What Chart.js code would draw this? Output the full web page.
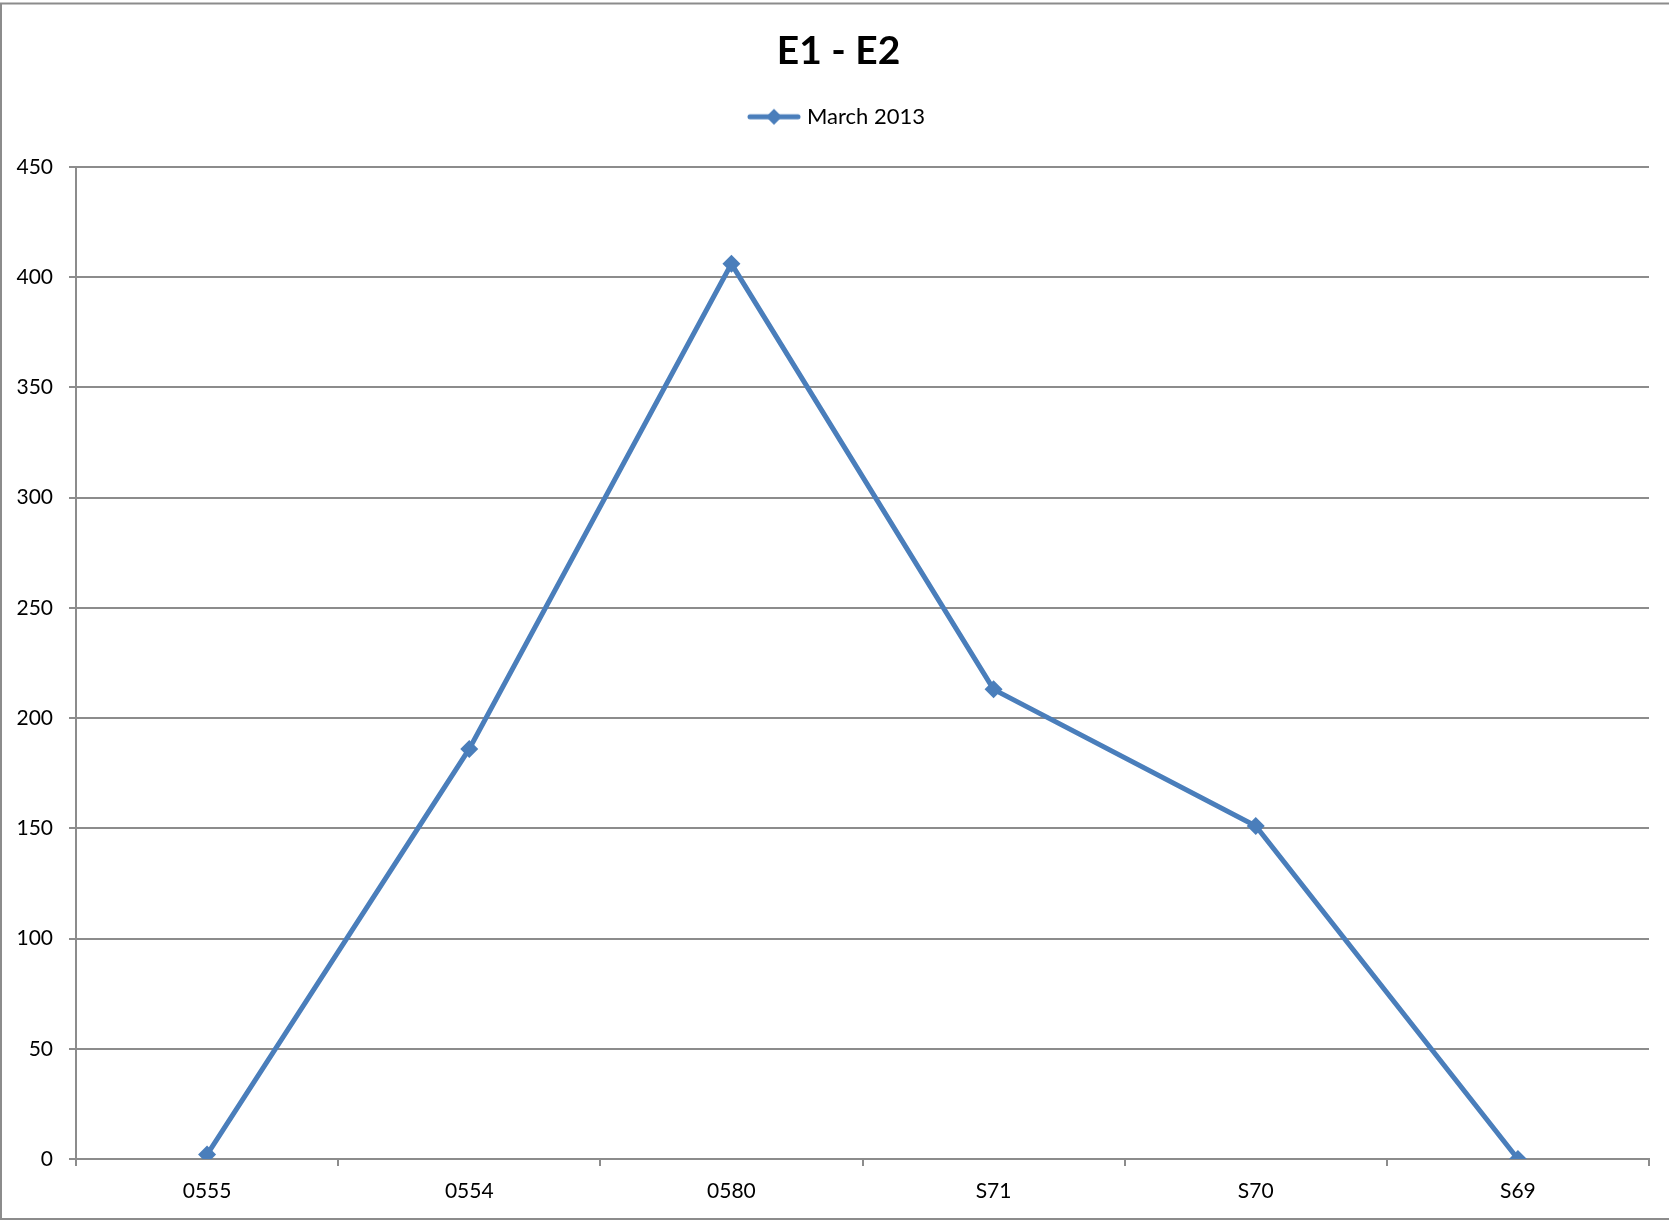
<!DOCTYPE html>
<html>
<head>
<meta charset="utf-8">
<title>E1 - E2</title>
<script src="https://cdn.jsdelivr.net/npm/chart.js@4/dist/chart.umd.min.js"></script>
<style>
  html, body { margin: 0; padding: 0; background: #ffffff; }
  #wrap { position: relative; width: 1669px; height: 1225px; }
</style>
</head>
<body>
<div id="wrap"><canvas id="chart" width="1669" height="1225"></canvas></div>
<script>
// Station codes along the transect and the March 2013 readings
const categories = ['0555', '0554', '0580', 'S71', 'S70', 'S69'];
const march2013 = [2, 186, 406, 213, 151, 0];
const yTicks = [0, 50, 100, 150, 200, 250, 300, 350, 400, 450];

const chartTitle = 'E1 - E2';
const seriesName = 'March 2013';

const lineColor = '#4a7ebb';
const gridColor = '#8c8c8c';
const fontFamily = 'Lato, "Open Sans", sans-serif';

// Legend swatch: a short line with a diamond marker in the middle
function legendSwatch() {
  const c = document.createElement('canvas');
  c.width = 54; c.height = 20;
  const g = c.getContext('2d');
  g.strokeStyle = lineColor;
  g.lineWidth = 5;
  g.lineCap = 'round';
  g.beginPath(); g.moveTo(3, 10); g.lineTo(51, 10); g.stroke();
  g.fillStyle = lineColor;
  g.beginPath(); g.moveTo(27, 2); g.lineTo(35, 10); g.lineTo(27, 18); g.lineTo(19, 10); g.closePath(); g.fill();
  return c;
}
const swatch = legendSwatch();

// Thin grey frame around the whole chart
const frame = {
  id: 'frame',
  beforeDraw(chart) {
    const ctx = chart.ctx;
    ctx.save();
    ctx.strokeStyle = '#8c8c8c';
    ctx.lineWidth = 2;
    ctx.strokeRect(1, 3.5, chart.width + 10, 1215.5);
    ctx.restore();
  }
};

// Extra room between the legend and the plot area, and centre the
// title and legend on the whole frame rather than the padded box
const headerLayout = {
  id: 'headerLayout',
  beforeInit(chart) {
    const legend = chart.legend;
    if (!legend) return;
    const fit = legend.fit;
    legend.fit = function () {
      fit.call(this);
      this.height += 29;
    };
  },
  afterLayout(chart) {
    const shift = 14;
    [chart.titleBlock, chart.legend].forEach(box => {
      if (box) { box.left += shift; box.right += shift; }
    });
  }
};

new Chart(document.getElementById('chart'), {
  type: 'line',
  data: {
    labels: categories,
    datasets: [{
      label: seriesName,
      data: march2013,
      borderColor: lineColor,
      backgroundColor: lineColor,
      borderWidth: 5,
      pointStyle: 'rectRot',
      pointRadius: 9,
      pointHoverRadius: 9,
      pointBorderWidth: 0,
      tension: 0,
      fill: false
    }]
  },
  options: {
    responsive: false,
    animation: false,
    devicePixelRatio: 1,
    layout: { padding: { top: 20, left: 0, right: 20, bottom: 0 } },
    plugins: {
      tooltip: { enabled: false },
      title: {
        display: true,
        text: chartTitle,
        color: '#000000',
        font: { family: fontFamily, size: 39, weight: 'bold' },
        padding: { top: 8, bottom: 17 }
      },
      legend: {
        display: true,
        position: 'top',
        labels: {
          color: '#000000',
          font: { family: fontFamily, size: 22 },
          usePointStyle: true,
          pointStyleWidth: 44,
          padding: 14,
          generateLabels(chart) {
            return [{
              text: seriesName,
              pointStyle: swatch,
              fillStyle: lineColor,
              strokeStyle: lineColor,
              lineWidth: 0,
              hidden: false,
              datasetIndex: 0,
              fontColor: '#000000'
            }];
          }
        }
      }
    },
    scales: {
      x: {
        type: 'category',
        offset: true,
        grid: {
          display: true,
          offset: true,
          drawOnChartArea: false,
          drawTicks: true,
          tickLength: 7,
          color: gridColor,
          lineWidth: 2
        },
        border: { display: true, color: gridColor, width: 2 },
        ticks: {
          color: '#000000',
          font: { family: fontFamily, size: 21 },
          padding: 13,
          maxRotation: 0
        },
        afterFit(scale) { scale.height = 66; }
      },
      y: {
        min: 0,
        max: 450,
        afterBuildTicks(scale) { scale.ticks = yTicks.map(v => ({ value: v })); },
        grid: {
          color: gridColor,
          lineWidth: 2,
          drawTicks: true,
          tickLength: 7
        },
        border: { display: true, color: gridColor, width: 2 },
        ticks: {
          color: '#000000',
          font: { family: fontFamily, size: 21 },
          padding: 16
        },
        afterFit(scale) { scale.width = 76; }
      }
    }
  },
  plugins: [frame, headerLayout]
});
</script>
</body>
</html>
